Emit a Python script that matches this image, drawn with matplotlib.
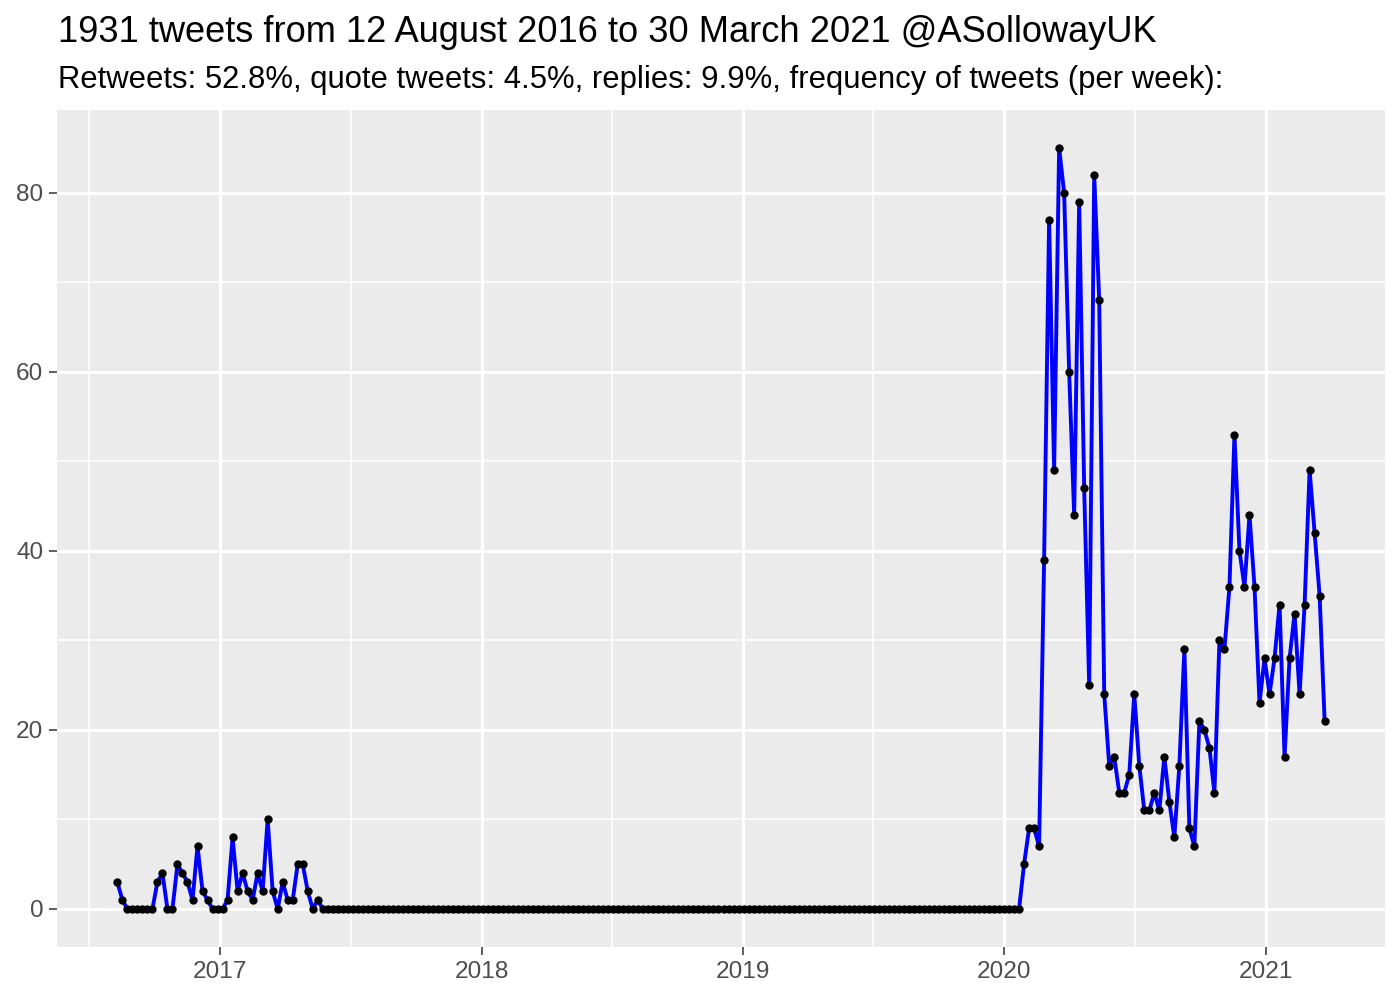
import numpy as np
import pandas as pd
import matplotlib
matplotlib.use("Agg")
import matplotlib.pyplot as plt
import matplotlib.dates as mdates

plt.rcParams['font.family'] = ['Liberation Sans', 'DejaVu Sans']

# weekly tweet counts, first bin starting 10 Aug 2016
start_week = "2016-08-10"
early = [3, 1, 0, 0, 0, 0, 0, 0, 3, 4, 0, 0, 5, 4, 3, 1, 7, 2, 1, 0,
         0, 0, 1, 8, 2, 4, 2, 1, 4, 2, 10, 2, 0, 3, 1, 1, 5, 5, 2, 0,
         1, 0]
quiet = [0] * 139  # mid 2017 to early 2020: no tweets
late = [5, 9, 9, 7, 39, 77, 49, 85, 80, 60, 44, 79, 47, 25, 82, 68,
        24, 16, 17, 13, 13, 15, 24, 16, 11, 11, 13, 11, 17, 12, 8, 16,
        29, 9, 7, 21, 20, 18, 13, 30, 29, 36, 53, 40, 36, 44, 36, 23,
        28, 24, 28, 34, 17, 28, 33, 24, 34, 49, 42, 35, 21]
counts = early + quiet + late
weeks = pd.date_range(start_week, periods=len(counts), freq="7D")

title = "1931 tweets from 12 August 2016 to 30 March 2021 @ASollowayUK"
subtitle = ("Retweets: 52.8%, quote tweets: 4.5%, replies: 9.9%, "
            "frequency of tweets (per week):")

year_ticks = pd.to_datetime(["2017-01-01", "2018-01-01", "2019-01-01",
                             "2020-01-01", "2021-01-01"])
year_minor = pd.to_datetime(["2016-07-02", "2017-07-02", "2018-07-02",
                             "2019-07-02", "2020-07-02"])

fig = plt.figure(figsize=(7, 5), dpi=200)
ax = fig.add_axes([57 / 1400, 1 - 947 / 1000, 1328 / 1400, 837 / 1000])
ax.set_facecolor("#EBEBEB")

ax.plot(weeks, counts, color="blue", lw=1.4, zorder=3)
ax.plot(weeks, counts, "o", color="black", ms=2.0, zorder=4)

# ggplot-like expansion of 5%
xn = mdates.date2num(weeks)
span = xn[-1] - xn[0]
ax.set_xlim(xn[0] - 0.05 * span, xn[-1] + 0.05 * span)
ymax = max(counts)
ax.set_ylim(-0.05 * ymax, ymax * 1.05)

ax.set_xticks(year_ticks)
ax.set_xticks(year_minor, minor=True)
ax.xaxis.set_major_formatter(mdates.DateFormatter("%Y"))
ax.set_yticks([0, 20, 40, 60, 80])
ax.set_yticks([10, 30, 50, 70], minor=True)

ax.grid(which="major", color="white", lw=1.1)
ax.grid(which="minor", color="white", lw=0.55)
ax.set_axisbelow(True)
for s in ax.spines.values():
    s.set_visible(False)
ax.tick_params(which="major", length=2.75, width=0.55, color="#333333",
               labelcolor="#4D4D4D", labelsize=8.8, pad=2.2)
ax.tick_params(which="minor", length=0)

fig.text(58 / 1400, 1 - 42 / 1000, title, fontsize=13.05, va="baseline",
         ha="left")
fig.text(58 / 1400, 1 - 88 / 1000, subtitle, fontsize=11.15, va="baseline",
         ha="left")

fig.savefig("out.png", dpi=200)
